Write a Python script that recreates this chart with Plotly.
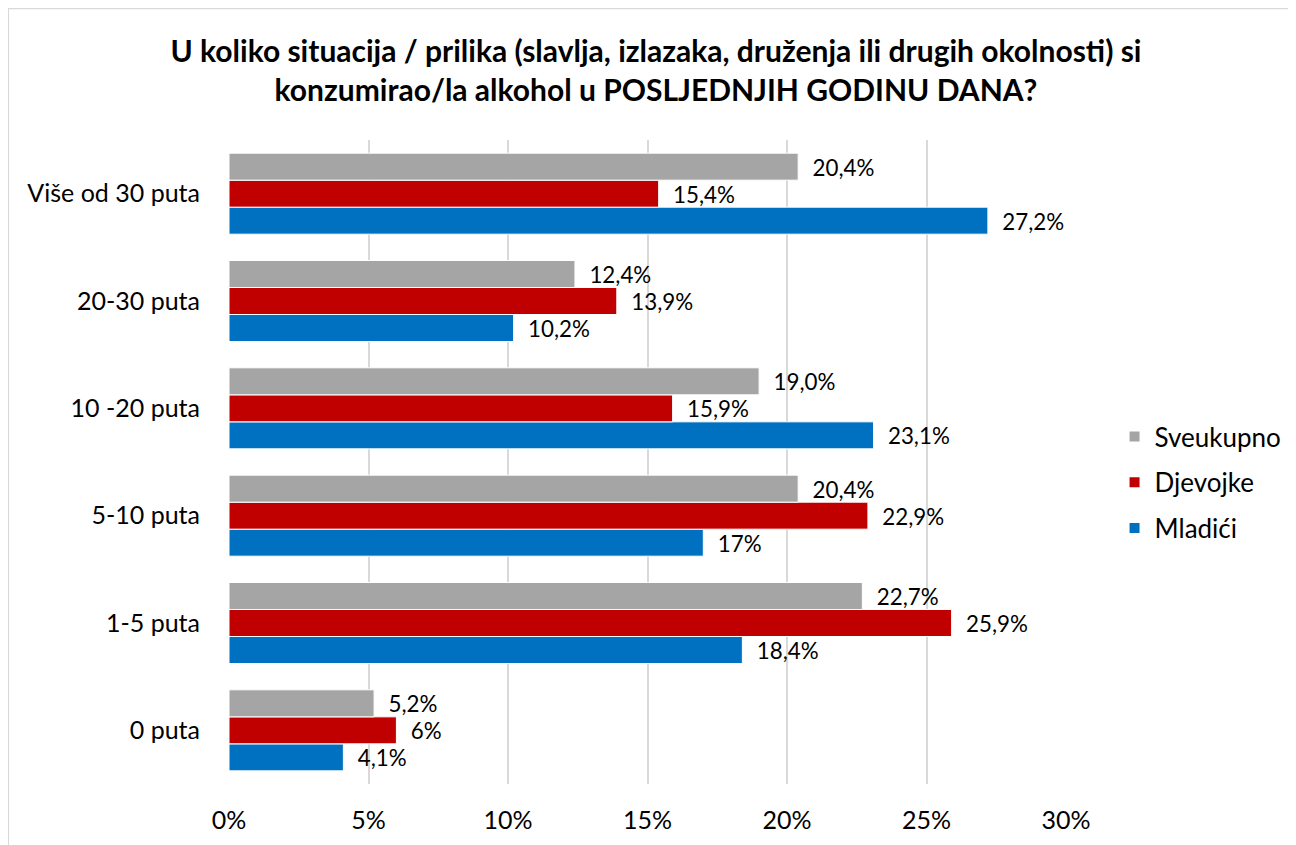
import plotly.graph_objects as go

categories = ["Više od 30 puta", "20-30 puta", "10 -20 puta", "5-10 puta", "1-5 puta", "0 puta"]
sveukupno = [20.4, 12.4, 19.0, 20.4, 22.7, 5.2]
djevojke = [15.4, 13.9, 15.9, 22.9, 25.9, 6]
mladici = [27.2, 10.2, 23.1, 17, 18.4, 4.1]
x_ticks = [0, 5, 10, 15, 20, 25, 30]
x_tick_labels = ["0%", "5%", "10%", "15%", "20%", "25%", "30%"]

title = ("U koliko situacija / prilika (slavlja, izlazaka, druženja ili drugih okolnosti) si<br>"
         "konzumirao/la alkohol u POSLJEDNJIH GODINU DANA?")

FONT = "Lato"

def fmt(v):
    return "\u00a0\u00a0" + str(v).replace(".", ",") + "%"

series = [
    ("Mladići", mladici, "#0070C0", 3),
    ("Djevojke", djevojke, "#C00000", 2),
    ("Sveukupno", sveukupno, "#A5A5A5", 1),
]

fig = go.Figure()
for name, vals, color, rank in series:
    fig.add_trace(go.Bar(
        name=name, y=categories, x=vals, orientation="h", legendgroup=name,
        legendrank=rank,
        marker=dict(color=color, line=dict(color="white", width=1)),
        text=[fmt(v) for v in vals], textposition="outside",
        textfont=dict(family=FONT, size=24, color="black"),
        cliponaxis=False,
    ))

fig.update_layout(
    width=1296, height=845,
    margin=dict(l=221, r=238, t=132, b=69),
    paper_bgcolor="white", plot_bgcolor="white",
    barmode="group", bargap=0.245, bargroupgap=0,
    font=dict(family=FONT, size=25, color="black"),
    title=dict(text=title, x=0.5, xanchor="center", y=0.9365, yanchor="top",
               font=dict(family=FONT, size=30, color="black", weight="bold")),
    xaxis=dict(range=[0, 30], tickvals=x_ticks, ticktext=x_tick_labels,
               showgrid=True, gridcolor="#D9D9D9", gridwidth=2, zeroline=False,
               showline=False, ticks="", tickfont=dict(size=25), ticklabelstandoff=19),
    yaxis=dict(categoryorder="array", categoryarray=categories[::-1],
               showgrid=False, zeroline=False, showline=False, ticks="",
               tickfont=dict(size=25), ticklabelstandoff=28),
    legend=dict(x=1.058, y=0.468, xanchor="left", yanchor="middle",
                traceorder="grouped", font=dict(size=26),
                itemsizing="constant", tracegroupgap=9),
    showlegend=True,
)

fig.add_shape(type="rect", xref="paper", yref="paper",
              x0=-0.264, x1=1.4, y0=-0.3, y1=1.2045,
              line=dict(color="#D9D9D9", width=2), fillcolor="rgba(0,0,0,0)", layer="below")

fig.write_html("out.html")
